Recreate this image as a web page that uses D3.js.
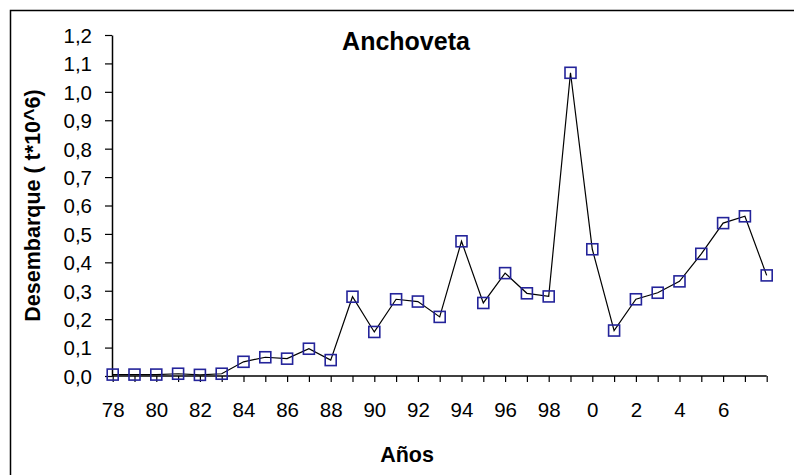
<!DOCTYPE html>
<html>
<head>
<meta charset="utf-8">
<script src="https://cdn.jsdelivr.net/npm/d3@7"></script>
<style>
  html, body { margin: 0; padding: 0; background: #fff; }
  svg { display: block; font-family: "Liberation Sans", Arial, sans-serif; }
</style>
</head>
<body>
<svg id="chart" width="794" height="475"></svg>
<script>
// Years (two-digit labels as shown on the axis)
const categories = ["78","79","80","81","82","83","84","85","86","87","88","89","90","91","92","93","94","95","96","97","98","99","0","1","2","3","4","5","6","7","8"];
// Anchoveta landings (t * 10^6)
const landings = [0.005,0.005,0.005,0.008,0.004,0.008,0.050,0.066,0.061,0.096,0.056,0.279,0.155,0.270,0.262,0.208,0.474,0.257,0.362,0.291,0.280,1.067,0.446,0.160,0.270,0.293,0.333,0.430,0.538,0.562,0.354];
// Labels printed on the x axis
const xTickLabels = ["78","80","82","84","86","88","90","92","94","96","98","0","2","4","6"];
// Y axis ticks
const yTicks = [0,0.1,0.2,0.3,0.4,0.5,0.6,0.7,0.8,0.9,1.0,1.1,1.2];

const title = "Anchoveta";
const xTitle = "Años";
const yTitle = "Desembarque ( t*10^6)";

const svg = d3.select("#chart");

// outer frame
svg.append("rect")
  .attr("x", 10.5).attr("y", 10.5)
  .attr("width", 800).attr("height", 500)
  .attr("fill", "none").attr("stroke", "#000").attr("stroke-width", 1.5);

const x = d3.scalePoint().domain(categories).range([112.7, 766.7]);
const y = d3.scaleLinear().domain([0, 1.2]).range([376, 35]);

const fmt = v => d3.format(".1f")(v).replace(".", ",");

// Y axis
const yAxis = svg.append("g")
  .attr("transform", "translate(112,0)")
  .call(d3.axisLeft(y).tickValues(yTicks).tickFormat(fmt).tickSize(7).tickSizeOuter(0).tickPadding(13));
yAxis.select(".domain").attr("stroke", "#000").attr("stroke-width", 1.5);
yAxis.selectAll(".tick line").attr("stroke", "#000").attr("stroke-width", 1.2);
yAxis.selectAll(".tick text").attr("font-size", 20.5).attr("fill", "#000")
  .attr("font-family", "Liberation Sans, Arial, sans-serif").attr("dy", "0.36em");

// X axis
const xAxis = svg.append("g")
  .attr("transform", "translate(0,376)")
  .call(d3.axisBottom(x).tickFormat(d => xTickLabels.includes(d) ? d : "").tickSize(6).tickSizeOuter(0));
xAxis.select(".domain").attr("stroke", "#000").attr("stroke-width", 1.5)
  .attr("d", `M${112},0H${x(categories[categories.length-1])}`);
xAxis.selectAll(".tick line").attr("stroke", "#000").attr("stroke-width", 1.2);
xAxis.selectAll(".tick text").attr("font-size", 20.5).attr("fill", "#000")
  .attr("font-family", "Liberation Sans, Arial, sans-serif")
  .attr("y", 41).attr("dy", 0);

// Line
const line = d3.line().x((d, i) => x(categories[i])).y(d => y(d));
svg.append("path")
  .datum(landings)
  .attr("d", line)
  .attr("fill", "none").attr("stroke", "#000").attr("stroke-width", 1.2);

// Markers
const ms = 11;
svg.append("g").selectAll("rect")
  .data(landings)
  .join("rect")
  .attr("x", (d, i) => x(categories[i]) - ms / 2)
  .attr("y", d => y(d) - ms / 2)
  .attr("width", ms).attr("height", ms)
  .attr("fill", "none").attr("stroke", "#24249a").attr("stroke-width", 1.6);

// Titles
svg.append("text")
  .attr("x", 406).attr("y", 50)
  .attr("text-anchor", "middle")
  .attr("font-size", 25).attr("font-weight", "bold").attr("fill", "#000")
  .text(title);

svg.append("text")
  .attr("x", 407).attr("y", 461.5)
  .attr("text-anchor", "middle")
  .attr("font-size", 21.5).attr("font-weight", "bold").attr("fill", "#000")
  .text(xTitle);

svg.append("text")
  .attr("transform", "translate(39.5,205.5) rotate(-90)")
  .attr("text-anchor", "middle")
  .attr("font-size", 21.5).attr("font-weight", "bold").attr("fill", "#000")
  .text(yTitle);
</script>
</body>
</html>
